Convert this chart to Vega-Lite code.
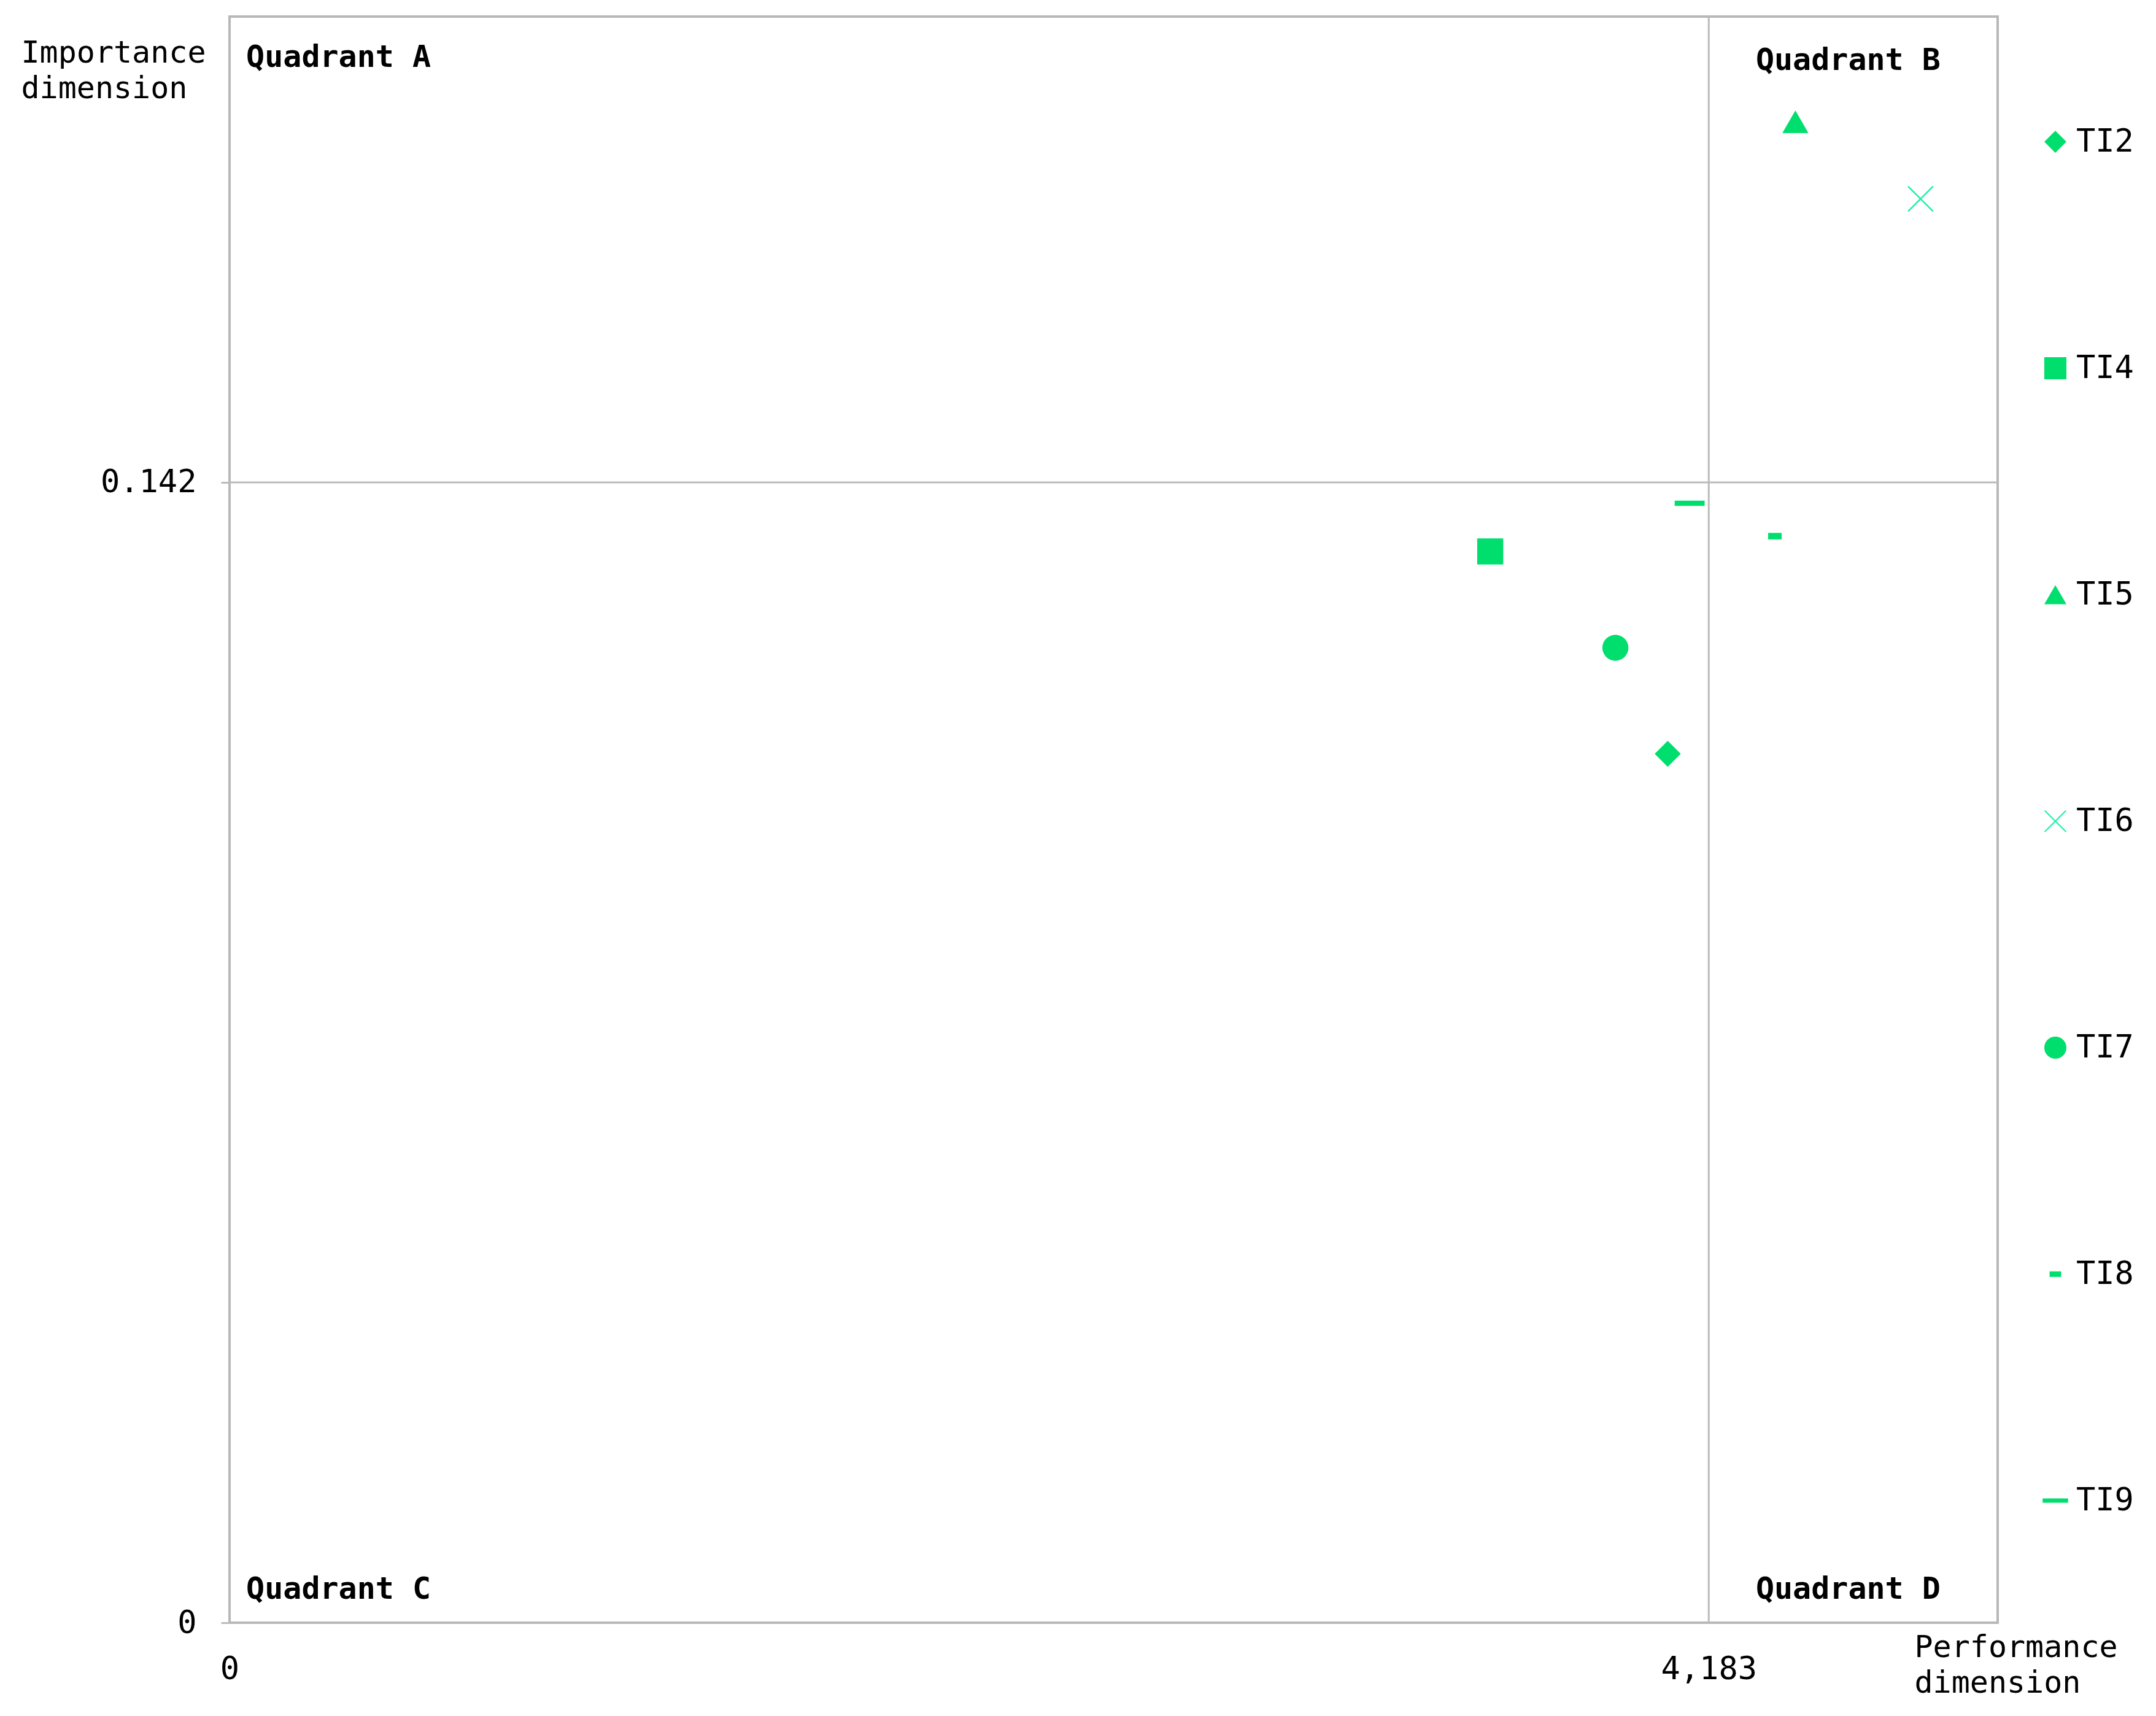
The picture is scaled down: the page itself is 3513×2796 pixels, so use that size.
{
  "$schema": "https://vega.github.io/schema/vega-lite/v6.json",
  "autosize": "none",
  "width": 2881,
  "height": 2617,
  "padding": {"left": 374, "top": 27, "right": 258, "bottom": 152},
  "background": "white",
  "config": {
    "view": {"stroke": "#b8b8b8", "strokeWidth": 4},
    "font": "DejaVu Sans Mono"
  },
  "datasets": {
    "points": [
      {"item": "TI2", "performance": 4.067, "importance": 0.1082},
      {"item": "TI4", "performance": 3.565, "importance": 0.1334},
      {"item": "TI5", "performance": 4.428, "importance": 0.1869},
      {"item": "TI6", "performance": 4.782, "importance": 0.1773},
      {"item": "TI7", "performance": 3.919, "importance": 0.1214},
      {"item": "TI8", "performance": 4.37, "importance": 0.1353},
      {"item": "TI9", "performance": 4.129, "importance": 0.1394}
    ],
    "means": [{"performance": 4.183, "importance": 0.142}],
    "quadrants": [
      {"label": "Quadrant A", "performance": 0.047, "importance": 0.1949},
      {"label": "Quadrant B", "performance": 4.316, "importance": 0.1945},
      {"label": "Quadrant C", "performance": 0.047, "importance": 0.0041},
      {"label": "Quadrant D", "performance": 4.316, "importance": 0.0041}
    ]
  },
  "layer": [
    {
      "data": {"name": "means"},
      "mark": {"type": "rule", "color": "#bbbbbb", "strokeWidth": 3},
      "encoding": {
        "x": {"field": "performance", "type": "quantitative", "scale": {"domain": [0, 5], "nice": false}}
      }
    },
    {
      "data": {"name": "means"},
      "mark": {"type": "rule", "color": "#bbbbbb", "strokeWidth": 3},
      "encoding": {
        "y": {"field": "importance", "type": "quantitative", "scale": {"domain": [0, 0.2], "nice": false}}
      }
    },
    {
      "data": {"name": "quadrants"},
      "mark": {"type": "text", "align": "left", "baseline": "middle", "fontSize": 50, "fontWeight": "bold", "color": "black", "font": "DejaVu Sans Mono"},
      "encoding": {
        "x": {"field": "performance", "type": "quantitative"},
        "y": {"field": "importance", "type": "quantitative"},
        "text": {"field": "label"}
      }
    },
    {
      "data": {"name": "points"},
      "mark": {"type": "point", "filled": true, "opacity": 1, "size": 1800, "strokeWidth": 0},
      "encoding": {
        "x": {
          "field": "performance", "type": "quantitative",
          "scale": {"domain": [0, 5], "nice": false},
          "axis": {
            "values": [0, 4.183],
            "labelExpr": "replace(format(datum.value, '.3~f'), '.', ',')",
            "labelFlush": false,
            "domain": false, "ticks": false, "grid": false,
            "labelFontSize": 52, "labelPadding": 50, "labelColor": "black",
            "labelFont": "DejaVu Sans Mono",
            "title": ["Performance", "dimension"],
            "titleFont": "DejaVu Sans Mono", "titleFontSize": 50, "titleFontWeight": "normal",
            "titleColor": "black", "titleAlign": "left", "titleAnchor": null,
            "titleX": 2745, "titleY": 15, "titleBaseline": "top", "titleLineHeight": 58
          }
        },
        "y": {
          "field": "importance", "type": "quantitative",
          "scale": {"domain": [0, 0.2], "nice": false},
          "axis": {
            "values": [0, 0.142],
            "labelExpr": "datum.value == 0 ? '0' : format(datum.value, '.3f')",
            "labelFlush": false,
            "domain": false, "grid": false,
            "ticks": true, "tickSize": 14, "tickColor": "#bbbbbb", "tickWidth": 3,
            "labelFontSize": 52, "labelPadding": 40, "labelColor": "black",
            "labelFont": "DejaVu Sans Mono",
            "title": ["Importance", "dimension"],
            "titleFont": "DejaVu Sans Mono", "titleFontSize": 50, "titleFontWeight": "normal",
            "titleColor": "black", "titleAngle": 0, "titleAlign": "left", "titleAnchor": null,
            "titleX": -340, "titleY": 34, "titleBaseline": "top", "titleLineHeight": 58
          }
        },
        "shape": {
          "field": "item", "type": "nominal",
          "scale": {
            "domain": ["TI2", "TI4", "TI5", "TI6", "TI7", "TI8", "TI9"],
            "range": [
              "diamond",
              "square",
              "triangle-up",
              "M-1,-0.92L-0.92,-1L0,-0.08L0.92,-1L1,-0.92L0.08,0L1,0.92L0.92,1L0,0.08L-0.92,1L-1,0.92L-0.08,0Z",
              "circle",
              "M-0.52,-0.25H0.52V0.25H-0.52Z",
              "M-1.15,-0.2H1.15V0.2H-1.15Z"
            ]
          },
          "legend": {
            "title": null, "orient": "none", "legendX": 2949, "legendY": 178,
            "labelFontSize": 52, "labelFont": "DejaVu Sans Mono", "labelColor": "black",
            "symbolSize": 1300, "rowPadding": 317, "labelOffset": 8, "padding": 0,
            "symbolStrokeWidth": 0
          }
        },
        "color": {
          "field": "item", "type": "nominal",
          "scale": {
            "domain": ["TI2", "TI4", "TI5", "TI6", "TI7", "TI8", "TI9"],
            "range": ["#00de6e", "#00de6e", "#00de6e", "#1eefa8", "#00de6e", "#00de6e", "#00de6e"]
          }
        }
      }
    }
  ]
}
